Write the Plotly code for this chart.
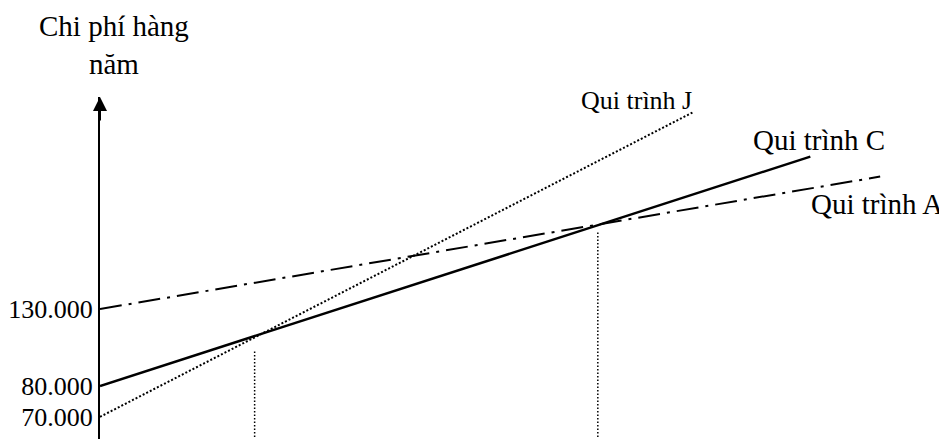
import plotly.graph_objects as go

# break-even chart (schematic, not drawn to scale in the source)
processes = ["Qui trình A", "Qui trình C", "Qui trình J"]
start_cost = [130, 80, 60]          # annual cost at zero volume (drawn height)
end_volume = [7.82, 7.12, 5.95]
end_cost = [216, 229, 258]
line_dash = ["22px,7px,3px,7px", "solid", "2px,2px"]
line_width = [2, 2.5, 2]

tick_vals = [130, 80, 60]
tick_text = ["130.000", "80.000", "70.000"]

break_even = [1.55, 4.99]
guide_top = [103, 180]

x_range = [0, 8.49]
y_range = [45.6, 267.7]

fig = go.Figure()

for i, name in enumerate(processes):
    fig.add_trace(go.Scatter(
        x=[0, end_volume[i]], y=[start_cost[i], end_cost[i]],
        mode="lines", name=name,
        line=dict(color="black", width=line_width[i], dash=line_dash[i]),
    ))

for q, top in zip(break_even, guide_top):
    fig.add_trace(go.Scatter(
        x=[q, q], y=[y_range[0] - 10, top],
        mode="lines",
        line=dict(color="black", width=1.5, dash="1.5px,2px"),
    ))

serif = "Liberation Serif"

fig.add_annotation(x=0, y=y_range[1], xref="x", yref="y", text="",
                   showarrow=True, ax=0, ay=25, arrowhead=2, arrowsize=1.4,
                   arrowwidth=2, arrowcolor="black")

fig.add_annotation(x=0.145, y=1.151, xref="x", yref="paper",
                   text="Chi phí hàng<br>năm", showarrow=False,
                   font=dict(family=serif, size=29, color="black"),
                   xanchor="center", yanchor="middle")

fig.add_annotation(x=5.95, y=265.7, text="Qui trình J", showarrow=False,
                   font=dict(family=serif, size=26, color="black"),
                   xanchor="right", yanchor="middle")
fig.add_annotation(x=7.21, y=239.7, text="Qui trình C", showarrow=False,
                   font=dict(family=serif, size=29, color="black"),
                   xanchor="center", yanchor="middle")
fig.add_annotation(x=7.79, y=197.9, text="Qui trình A", showarrow=False,
                   font=dict(family=serif, size=29, color="black"),
                   xanchor="center", yanchor="middle")

fig.update_xaxes(range=x_range, visible=False)
fig.update_yaxes(range=y_range, showgrid=False, zeroline=False,
                 showline=True, linecolor="black", linewidth=2,
                 ticks="", tickvals=tick_vals, ticktext=tick_text,
                 tickfont=dict(family=serif, size=26, color="black"))

# page body keeps its 8px default margin, so the figure is 8px smaller
fig.update_layout(
    width=939, height=431,
    margin=dict(l=90, r=0, t=89, b=0),
    paper_bgcolor="white", plot_bgcolor="white",
    showlegend=False,
)

fig.write_html("out.html")
